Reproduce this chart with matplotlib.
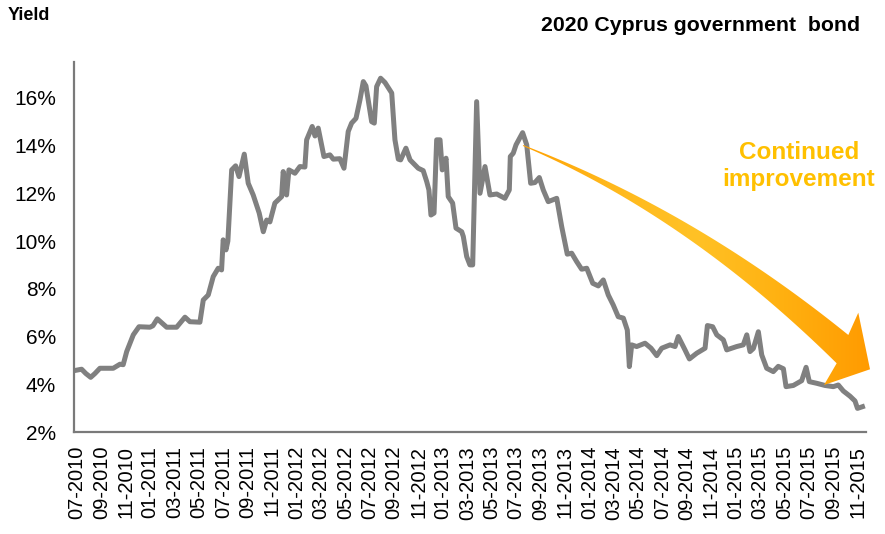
import numpy as np
import matplotlib
matplotlib.use("Agg")
import matplotlib.pyplot as plt
from matplotlib.path import Path
from matplotlib.patches import PathPatch
from matplotlib.colors import LinearSegmentedColormap

plt.rcParams['font.family'] = ['Liberation Sans', 'DejaVu Sans']

# 2020 Cyprus government bond yield, time in decimal years
t = [2010.480, 2010.532, 2010.561, 2010.594, 2010.623, 2010.657, 2010.748, 2010.794,
     2010.816, 2010.840, 2010.885, 2010.924, 2010.999, 2011.019, 2011.049, 2011.113,
     2011.181, 2011.238, 2011.272, 2011.340, 2011.363, 2011.397, 2011.431, 2011.465,
     2011.488, 2011.499, 2011.518, 2011.531, 2011.557, 2011.584, 2011.607, 2011.643,
     2011.670, 2011.704, 2011.745, 2011.773, 2011.796, 2011.818, 2011.852, 2011.898,
     2011.909, 2011.932, 2011.948, 2011.989, 2012.023, 2012.057, 2012.069, 2012.107,
     2012.126, 2012.148, 2012.187, 2012.228, 2012.251, 2012.296, 2012.324, 2012.353,
     2012.376, 2012.406, 2012.433, 2012.456, 2012.474, 2012.513, 2012.531, 2012.547,
     2012.574, 2012.604, 2012.650, 2012.672, 2012.695, 2012.711, 2012.747, 2012.775,
     2012.809, 2012.831, 2012.865, 2012.889, 2012.904, 2012.918, 2012.939, 2012.957,
     2012.980, 2012.995, 2013.021, 2013.036, 2013.066, 2013.089, 2013.128, 2013.139,
     2013.162, 2013.184, 2013.203, 2013.230, 2013.253, 2013.287, 2013.321, 2013.367,
     2013.423, 2013.453, 2013.460, 2013.480, 2013.499, 2013.544, 2013.572, 2013.599,
     2013.628, 2013.658, 2013.685, 2013.719, 2013.777, 2013.811, 2013.849, 2013.879,
     2013.913, 2013.947, 2013.982, 2014.023, 2014.061, 2014.095, 2014.129, 2014.163,
     2014.197, 2014.232, 2014.259, 2014.273, 2014.289, 2014.323, 2014.380, 2014.421,
     2014.460, 2014.494, 2014.551, 2014.585, 2014.607, 2014.653, 2014.683, 2014.733,
     2014.790, 2014.806, 2014.842, 2014.870, 2014.915, 2014.938, 2015.006, 2015.051,
     2015.075, 2015.097, 2015.120, 2015.154, 2015.177, 2015.211, 2015.256, 2015.290,
     2015.325, 2015.343, 2015.393, 2015.450, 2015.480, 2015.502, 2015.553, 2015.609,
     2015.666, 2015.700, 2015.734, 2015.780, 2015.814, 2015.831, 2015.865]

yields = [4.57, 4.63, 4.45, 4.29, 4.45, 4.67, 4.67, 4.84,
          4.82, 5.37, 6.07, 6.41, 6.39, 6.45, 6.74, 6.39,
          6.39, 6.81, 6.62, 6.60, 7.53, 7.74, 8.51, 8.86,
          8.79, 10.05, 9.63, 10.00, 12.98, 13.15, 12.70, 13.64,
          12.42, 11.93, 11.17, 10.39, 10.88, 10.80, 11.59, 11.86,
          12.91, 11.93, 12.98, 12.84, 13.12, 13.10, 14.24, 14.80,
          14.40, 14.73, 13.54, 13.61, 13.43, 13.45, 13.05, 14.59,
          14.94, 15.14, 15.91, 16.68, 16.50, 15.00, 14.94, 16.47,
          16.82, 16.64, 16.20, 14.24, 13.43, 13.40, 13.89, 13.40,
          13.19, 13.05, 12.95, 12.49, 12.14, 11.09, 11.17, 14.24,
          14.24, 12.98, 13.47, 11.86, 11.59, 10.54, 10.39, 10.19,
          9.35, 9.00, 9.00, 15.84, 12.00, 13.12, 11.93, 11.97,
          11.79, 12.14, 13.54, 13.68, 14.03, 14.54, 14.03, 12.42,
          12.45, 12.66, 12.14, 11.65, 11.79, 10.60, 9.45, 9.49,
          9.14, 8.82, 8.86, 8.23, 8.12, 8.37, 7.74, 7.32,
          6.83, 6.77, 6.27, 4.74, 5.65, 5.58, 5.72, 5.51,
          5.20, 5.51, 5.65, 5.58, 6.00, 5.44, 5.06, 5.30,
          5.51, 6.46, 6.41, 6.07, 5.86, 5.44, 5.58, 5.65,
          6.07, 5.37, 5.50, 6.20, 5.23, 4.67, 4.53, 4.75,
          4.65, 3.90, 3.95, 4.15, 4.71, 4.11, 4.04, 3.95,
          3.90, 3.97, 3.72, 3.50, 3.30, 2.99, 3.06]

tick_years = [2010] * 3 + [2011] * 6 + [2012] * 6 + [2013] * 6 + [2014] * 6 + [2015] * 6
tick_months = [7, 9, 11] + [1, 3, 5, 7, 9, 11] * 5
tick_labels = [f"{m:02d}-{y}" for y, m in zip(tick_years, tick_months)]
tick_pos = [y + (m - 1) / 12 for y, m in zip(tick_years, tick_months)]

y_ticks = [2, 4, 6, 8, 10, 12, 14, 16]

fig = plt.figure(figsize=(8.85, 5.34), dpi=100)
ax = fig.add_axes([0.0836, 0.191, 0.8949, 0.6929])

ax.plot(t, yields, color='#808080', lw=3.6, solid_joinstyle='round', zorder=2)

ax.set_xticks(tick_pos)
ax.set_xticklabels(tick_labels, rotation=90, fontsize=14.5)
ax.set_yticks(y_ticks)
ax.set_yticklabels([f"{v}%" for v in y_ticks], fontsize=15)
ax.tick_params(axis='both', length=0, colors='black')
ax.tick_params(axis='y', pad=13)
ax.tick_params(axis='x', pad=10)

for side in ['top', 'right']:
    ax.spines[side].set_visible(False)
for side in ['left', 'bottom']:
    ax.spines[side].set_color('#7a7a7a')
    ax.spines[side].set_linewidth(1.6)

# curved arrow body (two quadratic edges) plus head, in axes fraction
def bezier(p0, p1, p2, n=60):
    s = np.linspace(0, 1, n)[:, None]
    return (1 - s) ** 2 * np.array(p0) + 2 * s * (1 - s) * np.array(p1) + s ** 2 * np.array(p2)

upper = bezier((0.5669, 0.7757), (0.7833, 0.5990), (0.9777, 0.2622))
lower = bezier((0.5669, 0.7730), (0.7753, 0.5820), (0.9630, 0.1857))
head = np.array([(0.9903, 0.3224), (1.0051, 0.1695), (0.9470, 0.1270)])
outline = np.vstack([upper, head, lower[::-1], upper[:1]])
codes = [Path.MOVETO] + [Path.LINETO] * (len(outline) - 2) + [Path.CLOSEPOLY]
arrow_path = Path(outline, codes)
patch = PathPatch(arrow_path, transform=ax.transAxes, facecolor='none',
                  edgecolor='none', clip_on=False, zorder=3)
ax.add_patch(patch)

cmap = LinearSegmentedColormap.from_list(
    'arrow', ['#ffa000', '#ffb81c', '#ffc226', '#ffb010', '#ff9a00'])
grad = np.linspace(0, 1, 256)[None, :]
im = ax.imshow(grad, cmap=cmap, extent=[0.56, 1.01, 0.12, 0.78],
               transform=ax.transAxes, aspect='auto', zorder=3,
               interpolation='bilinear')
im.set_clip_path(patch)
im.set_clip_box(fig.bbox)

ax.set_xlim(2010.480, 2015.889)
ax.set_ylim(2, 17.5)

ax.text(0.915, 0.719, 'Continued\nimprovement', transform=ax.transAxes,
        ha='center', va='center', color='#ffc000', fontsize=17.5,
        fontweight='bold', linespacing=1.2)

fig.text(0.009, 0.986, 'Yield', fontsize=13, fontweight='bold', va='top', ha='left')
fig.text(0.972, 0.953, '2020 Cyprus government  bond', fontsize=15.3,
         fontweight='bold', va='center', ha='right')

fig.savefig('out.png', dpi=100)
